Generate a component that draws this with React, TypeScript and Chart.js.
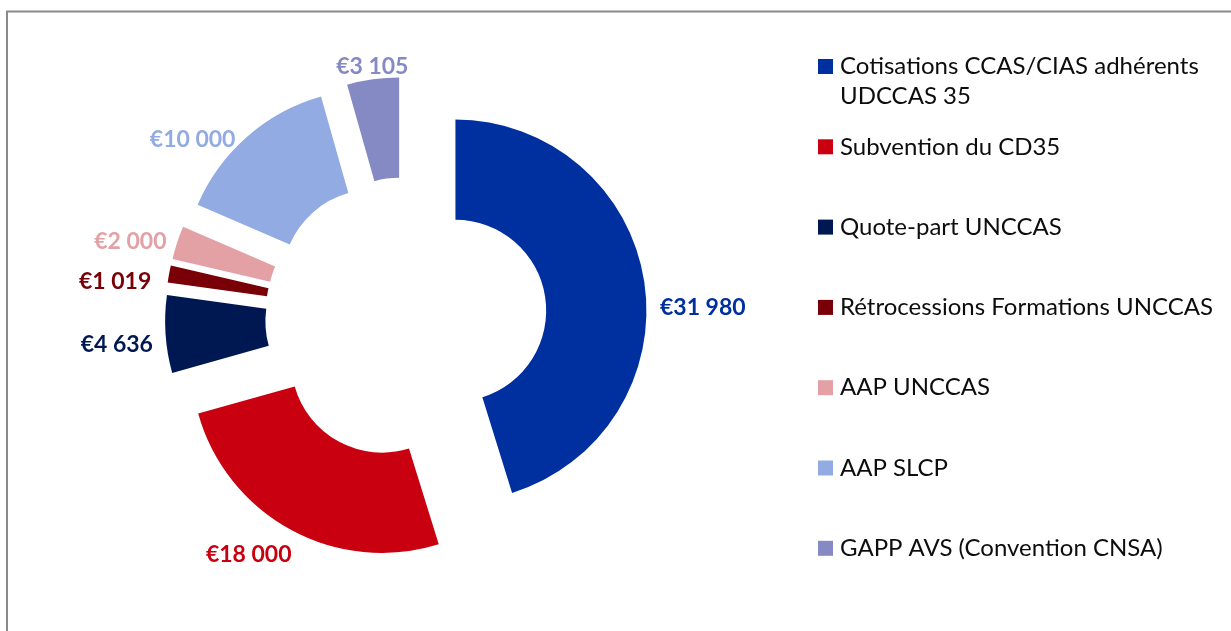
import React, { useEffect, useRef } from "react";
import { Chart, registerables } from "chart.js";

Chart.register(...registerables);

const categories = [
  "Cotisations CCAS/CIAS adhérents UDCCAS 35",
  "Subvention du CD35",
  "Quote-part UNCCAS",
  "Rétrocessions Formations UNCCAS",
  "AAP UNCCAS",
  "AAP SLCP",
  "GAPP AVS (Convention CNSA)",
];
const amounts = [31980, 18000, 4636, 1019, 2000, 10000, 3105];
const sliceColors = ["#0030A0", "#C9000F", "#001852", "#780006", "#E3A1A6", "#93ABE3", "#868AC4"];

// manual nudges of the value labels (as dragged in the original), in px
const labelNudges: [number, number][] = [
  [6, 34],
  [-23, -10],
  [-3, 7],
  [-8, 16],
  [-2, 14],
  [-24, 38],
  [3, 13],
];

const FONT = '"Lato", "Open Sans", "DejaVu Sans", sans-serif';
const W = 1231;
const H = 631;
const EXPLODE = 50; // visual displacement of each slice, px
const OUTER_R = 191;

const fmtEuro = (v: number) => "€" + String(v).replace(/\B(?=(\d{3})+(?!\d))/g, " ");

// explode every slice by moving its centre along its bisector while drawing
const explodePlugin = {
  id: "explode",
  beforeDatasetDraw(chart: any, args: any) {
    args.meta.data.forEach((arc: any) => {
      const mid = (arc.startAngle + arc.endAngle) / 2;
      arc.$ox = arc.x;
      arc.$oy = arc.y;
      arc.x = arc.x + Math.cos(mid) * EXPLODE;
      arc.y = arc.y + Math.sin(mid) * EXPLODE;
    });
  },
  afterDatasetDraw(chart: any, args: any) {
    args.meta.data.forEach((arc: any) => {
      arc.x = arc.$ox;
      arc.y = arc.$oy;
    });
  },
};

const framePlugin = {
  id: "frame",
  beforeDraw(chart: any) {
    const ctx = chart.ctx;
    ctx.save();
    ctx.fillStyle = "#ffffff";
    ctx.fillRect(0, 0, chart.width, chart.height);
    ctx.strokeStyle = "#8a8a8a";
    ctx.lineWidth = 2;
    ctx.beginPath();
    ctx.moveTo(7, chart.height + 5);
    ctx.lineTo(7, 11.5);
    ctx.lineTo(chart.width + 5, 11.5);
    ctx.stroke();
    ctx.restore();
  },
};

const valueLabelPlugin = {
  id: "valueLabels",
  afterDatasetsDraw(chart: any) {
    const ctx = chart.ctx;
    const meta = chart.getDatasetMeta(0);
    const ds = chart.data.datasets[0];
    ctx.save();
    ctx.font = `bold 23px ${FONT}`;
    ctx.textAlign = "center";
    ctx.textBaseline = "middle";
    meta.data.forEach((arc: any, i: number) => {
      const mid = (arc.startAngle + arc.endAngle) / 2;
      const c = Math.cos(mid);
      const s = Math.sin(mid);
      const text = fmtEuro(ds.data[i]);
      const w = ctx.measureText(text).width;
      const h = 24;
      const D = arc.outerRadius + EXPLODE + 9 + Math.abs(c) * w / 2 + Math.abs(s) * h / 2;
      const [nx, ny] = labelNudges[i] || [0, 0];
      ctx.fillStyle = ds.backgroundColor[i];
      ctx.fillText(text, arc.x + c * D + nx, arc.y + s * D + ny);
    });
    ctx.restore();
  },
};

const legendPlugin = {
  id: "customLegend",
  afterDraw(chart: any) {
    const ctx = chart.ctx;
    const labels: string[] = chart.data.labels;
    const colors: string[] = chart.data.datasets[0].backgroundColor;
    const boxX = 818;
    const textX = 840;
    const maxW = chart.width - textX - 6;
    const top = 66.5;
    const slot = 80.3;
    const lineH = 30;
    ctx.save();
    ctx.font = `24px ${FONT}`;
    ctx.textBaseline = "middle";
    ctx.textAlign = "left";
    labels.forEach((lab, i) => {
      const y = top + i * slot;
      const words = lab.split(" ");
      const lines: string[] = [];
      let cur = "";
      words.forEach((wd) => {
        const t = cur ? cur + " " + wd : wd;
        if (ctx.measureText(t).width > maxW && cur) {
          lines.push(cur);
          cur = wd;
        } else cur = t;
      });
      if (cur) lines.push(cur);
      ctx.fillStyle = colors[i];
      ctx.fillRect(boxX, y - 7.5, 15, 15);
      ctx.fillStyle = "#0d0d0d";
      lines.forEach((ln, k) => ctx.fillText(ln, textX, y + k * lineH));
    });
    ctx.restore();
  },
};

export default function App() {
  const ref = useRef<HTMLCanvasElement | null>(null);
  useEffect(() => {
    if (!ref.current) return;
    const cx = 406;
    const cy = 318;
    const half = 240;
    const chart = new Chart(ref.current, {
      type: "doughnut",
      data: {
        labels: categories,
        datasets: [
          {
            data: amounts,
            backgroundColor: sliceColors,
            borderWidth: 0,
            offset: 0,
            hoverOffset: 0,
          } as any,
        ],
      },
      options: {
        animation: false,
        responsive: false,
        events: [],
        radius: OUTER_R,
        cutout: "47.5%",
        layout: {
          padding: {
            left: cx - half,
            right: W - (cx + half),
            top: cy - half,
            bottom: H - (cy + half),
          },
        },
        plugins: {
          legend: { display: false },
          tooltip: { enabled: false },
          title: { display: false },
        },
      } as any,
      plugins: [framePlugin, explodePlugin, valueLabelPlugin, legendPlugin],
    });
    return () => chart.destroy();
  }, []);
  return (
    <div style={{ position: "absolute", left: 0, top: 0, width: W, height: H }}>
      <canvas ref={ref} width={W} height={H} style={{ display: "block", width: W, height: H }} />
    </div>
  );
}
